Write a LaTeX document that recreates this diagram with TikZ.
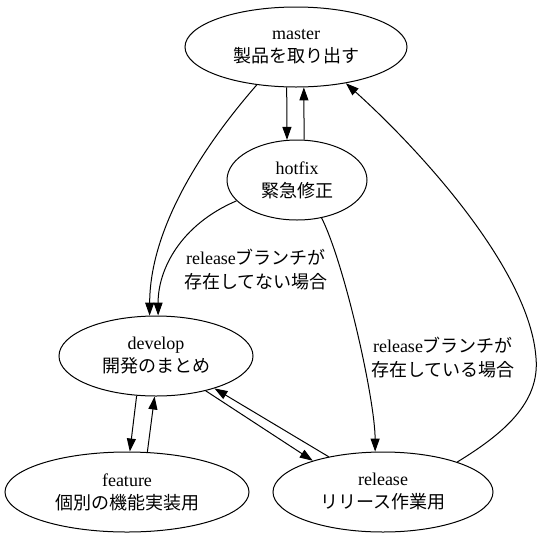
\documentclass[tikz,border=0pt]{standalone}
\usepackage{fontspec}
\setmainfont{Liberation Serif}
\newfontfamily\jp{Noto Sans CJK JP}
\usetikzlibrary{shapes.geometric, arrows.meta}

\begin{document}
\begin{tikzpicture}[
        x=1pt, y=-1pt,
        branch/.style={draw, ellipse, inner sep=0pt, minimum height=80pt, align=center, font=\fontsize{18}{23}\selectfont, line width=1pt},
        cond/.style={align=center, inner sep=0pt, font=\fontsize{18}{24}\selectfont},
        arr/.style={-{Triangle[length=13pt, width=9pt]}, line width=1pt}
    ]
        \useasboundingbox (0,0) rectangle (541,539);
        \node[branch, minimum width=222pt] (master)  at (296,47)  {master\\{\jp 製品を取り出す}};
        \node[branch, minimum width=140pt] (hotfix)  at (297,180) {hotfix\\{\jp 緊急修正}};
        \node[branch, minimum width=194pt] (develop) at (156,356) {develop\\{\jp 開発のまとめ}};
        \node[branch, minimum width=244pt] (feature) at (127,492) {feature\\{\jp 個別の機能実装用}};
        \node[branch, minimum width=220pt] (release) at (383,492) {release\\{\jp リリース作業用}};
        \node[cond] (nolbl)  at (256,270) {release{\jp ブランチが}\\{\jp 存在してない場合}};
        \node[cond] (haslbl) at (443,358) {release{\jp ブランチが}\\{\jp 存在している場合}};
        \coordinate (bend) at (536,358);
        \draw[arr] (master.-136) .. controls (200,150) and (150,230) .. (develop.99);
        \draw[arr] (hotfix.-161) .. controls (180,225) and (158,270) .. (develop.87);
        \draw[arr] (master.-103) -- (hotfix.104); \draw[arr] (hotfix.80) -- (master.-79);
        \draw[arr] (hotfix.-57) .. controls (345,265) and (375,400) .. (release.101);
        \draw[arr] (release.22) .. controls (503,434) and (540,403) .. (bend) .. controls (530,270) and (420,150) .. (master.-36);
        \draw[arr] (develop.-116) -- (feature.86); \draw[arr] (feature.63) -- (develop.-92);
        \draw[arr] (develop.-35) -- (release.156); \draw[arr] (release.147) -- (develop.-29);
    \end{tikzpicture}
\end{document}
